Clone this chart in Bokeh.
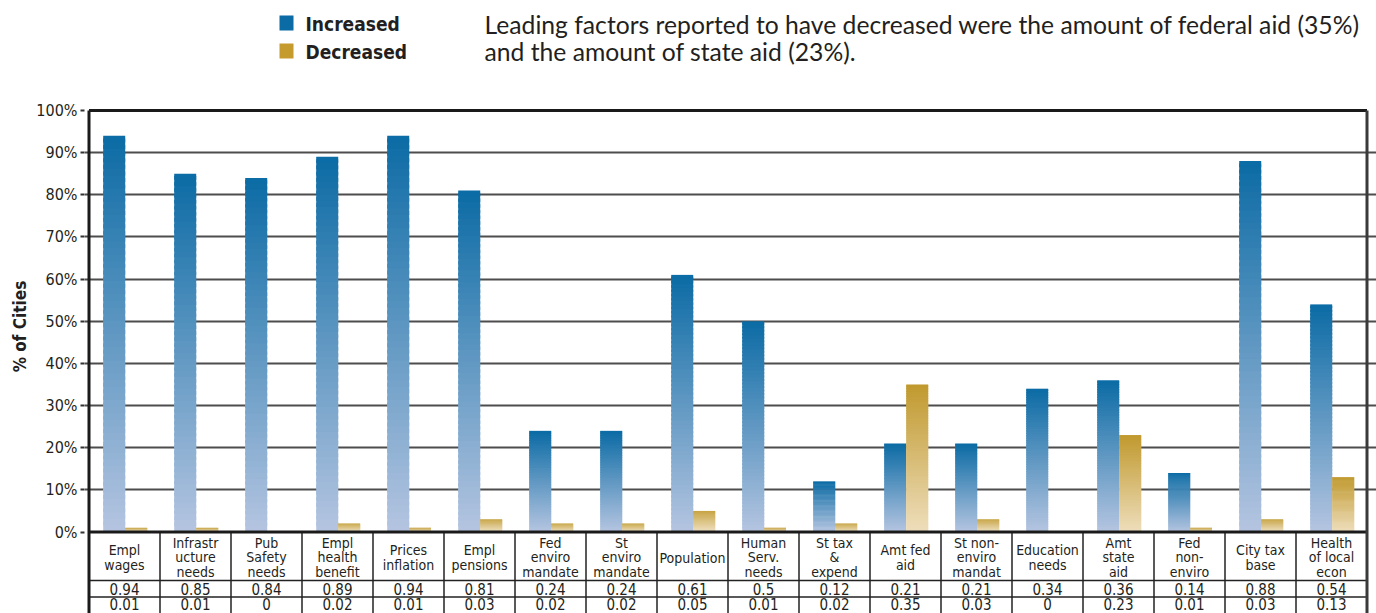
import numpy as np
from bokeh.plotting import figure
from bokeh.layouts import row
from bokeh.models import ColumnDataSource, FixedTicker, NumeralTickFormatter, Range1d
from bokeh.core.properties import value
from bokeh.embed import file_html
from bokeh.resources import INLINE

# ---------------- data ----------------
categories = [
    "Empl\nwages", "Infrastr\nucture\nneeds", "Pub\nSafety\nneeds", "Empl\nhealth\nbenefit",
    "Prices\ninflation", "Empl\npensions", "Fed\nenviro\nmandate", "St\nenviro\nmandate",
    "Population", "Human\nServ.\nneeds", "St tax\n&\nexpend", "Amt fed\naid",
    "St non-\nenviro\nmandat", "Education\nneeds", "Amt\nstate\naid", "Fed\nnon-\nenviro",
    "City tax\nbase", "Health\nof local\necon",
]
increased = [0.94, 0.85, 0.84, 0.89, 0.94, 0.81, 0.24, 0.24, 0.61, 0.5, 0.12, 0.21, 0.21, 0.34, 0.36, 0.14, 0.88, 0.54]
decreased = [0.01, 0.01, 0, 0.02, 0.01, 0.03, 0.02, 0.02, 0.05, 0.01, 0.02, 0.35, 0.03, 0, 0.23, 0.01, 0.03, 0.13]
y_ticks = [0.0, 0.1, 0.2, 0.3, 0.4, 0.5, 0.6, 0.7, 0.8, 0.9, 1.0]
grid_ticks = [0.1, 0.2, 0.3, 0.4, 0.5, 0.6, 0.7, 0.8, 0.9]
legend_labels = ["Increased", "Decreased"]
note_lines = [
    "Leading factors reported to have decreased were the amount of federal aid (35%)",
    "and the amount of state aid (23%).",
]
y_label = "% of Cities"

# ---------------- styling helpers ----------------
COND = "DejaVu Sans Condensed"
NOTE_FONT = "Lato"
INK = "#231f20"
BLUE_TOP, BLUE_BOT = (11, 107, 165), (181, 197, 224)
GOLD_TOP, GOLD_BOT = (192, 153, 46), (238, 222, 188)

W, H = 1376, 613
ZERO_PAGE_Y = 531.5
PX_PER_UNIT = 421.5


def y_of(page_y):
    return (ZERO_PAGE_Y - page_y) / PX_PER_UNIT


def x_of(page_x):
    return (page_x - 88.5) / 71.0


def hexc(c):
    return "#%02x%02x%02x" % tuple(int(round(v)) for v in c)


def gradient_source(vals, x0, x1, c_bot, c_top, n=60):
    L, R, B, T, C = [], [], [], [], []
    cb, ct = np.array(c_bot, float), np.array(c_top, float)
    for i, v in enumerate(vals):
        if v <= 0:
            continue
        for k in range(n):
            t = (k + 0.5) / n
            L.append(i + x0)
            R.append(i + x1)
            B.append(v * k / n)
            T.append(v * min(k + 1.6, n) / n)
            C.append(hexc(cb + (ct - cb) * t))
    return ColumnDataSource(dict(left=L, right=R, bottom=B, top=T, color=C))


def bare(fig):
    fig.outline_line_color = None
    fig.background_fill_color = "white"
    fig.border_fill_color = "white"


# ---------------- y-axis title panel ----------------
LEFT_W = 30
t = figure(width=LEFT_W, height=H, output_backend="svg", toolbar_location=None,
           x_range=Range1d(0, LEFT_W), y_range=Range1d(y_of(H), y_of(0)),
           x_axis_location=None, y_axis_location=None,
           min_border_left=0, min_border_right=0, min_border_top=0, min_border_bottom=0)
bare(t)
t.xgrid.visible = False
t.ygrid.visible = False
t.text(x=[19], y=[y_of(326)], text=[y_label], angle=np.pi / 2, text_align="center",
       text_baseline="middle", text_font=value(COND), text_font_size="17px",
       text_font_style="bold", text_color=INK)

# ---------------- main chart ----------------
p = figure(
    width=W - LEFT_W, height=H, output_backend="svg", toolbar_location=None,
    x_range=Range1d(x_of(84), x_of(W)), y_range=Range1d(y_of(H), y_of(0)),
    x_axis_location=None, min_border_left=84 - LEFT_W, min_border_right=0,
    min_border_top=0, min_border_bottom=0,
)
bare(p)
p.xgrid.visible = False
p.ygrid.ticker = FixedTicker(ticks=grid_ticks)
p.ygrid.grid_line_color = "#4d4d4d"
p.ygrid.grid_line_width = 2

ax = p.yaxis[0]
ax.ticker = FixedTicker(ticks=y_ticks)
ax.formatter = NumeralTickFormatter(format="0%")
ax.axis_line_color = None
ax.major_tick_in = 0
ax.major_tick_out = 4
ax.major_tick_line_color = "#333333"
ax.major_tick_line_width = 2
ax.minor_tick_line_color = None
ax.major_label_standoff = 3
ax.major_label_text_font = COND
ax.major_label_text_font_size = "16px"
ax.major_label_text_color = INK

n = len(categories)
xc = np.arange(n) + 0.5

# bars with vertical gradient
p.quad(left="left", right="right", bottom="bottom", top="top", fill_color="color",
       line_color=None, source=gradient_source(increased, 0.2, 0.51, BLUE_BOT, BLUE_TOP))
p.quad(left="left", right="right", bottom="bottom", top="top", fill_color="color",
       line_color=None, source=gradient_source(decreased, 0.51, 0.82, GOLD_BOT, GOLD_TOP))

y_bottom = y_of(H)
# table lines
p.segment(x0=list(range(1, n)), x1=list(range(1, n)), y0=[0] * (n - 1), y1=[y_bottom] * (n - 1),
          line_color="#222222", line_width=1.5)
row_lines = [y_of(580), y_of(596.5)]
p.segment(x0=[0, 0], x1=[n, n], y0=row_lines, y1=row_lines, line_color="#222222", line_width=1.5)
# frame lines
p.segment(x0=[0, 0], x1=[n, n], y0=[1.0, 0.0], y1=[1.0, 0.0], line_color="#1a1a1a", line_width=3)
p.segment(x0=[0], x1=[0], y0=[y_bottom], y1=[1.0], line_color="#1a1a1a", line_width=3)
p.segment(x0=[n], x1=[n], y0=[y_bottom], y1=[1.0], line_color="#3a3a3a", line_width=3)

# table texts
p.text(x=xc, y=[y_of(557)] * n, text=categories, text_align="center", text_baseline="middle",
       text_font=value(COND), text_font_size="14px", text_line_height=0.88, text_color=INK)
p.text(x=xc, y=[y_of(588.5)] * n, text=[f"{v:g}" for v in increased], text_align="center",
       text_baseline="middle", text_font=value(COND), text_font_size="15px", text_color=INK)
p.text(x=xc, y=[y_of(603.5)] * n, text=[f"{v:g}" for v in decreased], text_align="center",
       text_baseline="middle", text_font=value(COND), text_font_size="15px", text_color=INK)

# legend
p.quad(left=[x_of(279)] * 2, right=[x_of(293)] * 2, bottom=[y_of(30), y_of(58)], top=[y_of(15), y_of(43)],
       fill_color=[hexc(BLUE_TOP), "#c49b2c"], line_color=None)
p.text(x=[x_of(305)] * 2, y=[y_of(23), y_of(51)], text=legend_labels, text_baseline="middle",
       text_font=value(COND), text_font_size="19px", text_font_style="bold", text_color=INK)

# note text
p.text(x=[x_of(484)] * 2, y=[y_of(24), y_of(51)], text=note_lines, text_baseline="middle",
       text_font=value(NOTE_FONT), text_font_size="24.7px", text_color=INK)

layout = row(t, p, spacing=0)
open("out.html", "w").write(file_html(layout, INLINE))
